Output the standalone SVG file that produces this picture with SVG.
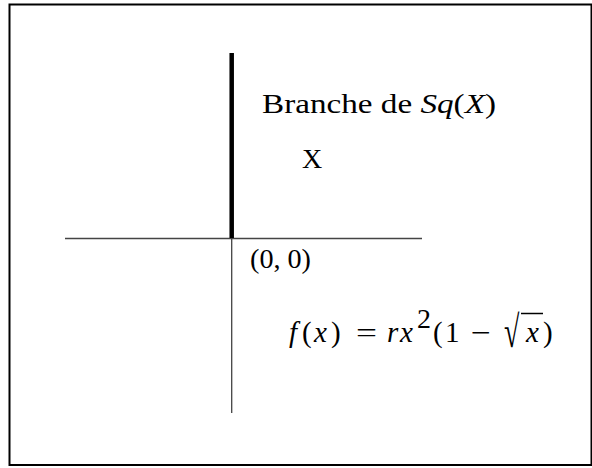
<svg xmlns="http://www.w3.org/2000/svg" width="592" height="468" viewBox="0 0 592 468">
<style>
.t{font-family:"Liberation Serif","Times New Roman",serif;font-size:28px;fill:#000}
.m{font-size:29px}
.i{font-style:italic}
.ax{stroke:#444;stroke-width:1.3;fill:none}
</style>
<rect x="0" y="0" width="592" height="468" fill="#fff"/>
<rect x="9.5" y="4.5" width="582" height="460.5" fill="none" stroke="#000" stroke-width="2"/>
<g id="connectors">
<line class="ax" x1="65" y1="238.5" x2="422" y2="238.5"/>
<line class="ax" x1="231.7" y1="238.5" x2="231.7" y2="413"/>
<line x1="231.7" y1="53" x2="231.7" y2="238" stroke="#000" stroke-width="4.5"/>
</g>
<g id="label-branche"><text class="t" x="262" y="113" textLength="234" lengthAdjust="spacingAndGlyphs">Branche de <tspan class="i">Sq</tspan>(<tspan class="i">X</tspan>)</text></g>
<g id="label-x"><text class="t" x="302" y="168">X</text></g>
<g id="label-origin"><text class="t" x="250" y="268" textLength="61" lengthAdjust="spacingAndGlyphs">(0, 0)</text></g>
<g id="label-f">
<text class="t m" y="342"><tspan class="i" x="289">f</tspan><tspan x="302">(</tspan><tspan class="i" x="314">x</tspan><tspan x="331">)</tspan></text>
<text class="t" x="356" y="342" textLength="21" lengthAdjust="spacingAndGlyphs">=</text>
<text class="t m i" y="342"><tspan x="387">r</tspan><tspan x="400">x</tspan></text>
<text class="t" x="417" y="328" font-size="19">2</text>
<text class="t m" y="342"><tspan x="433">(</tspan><tspan x="445">1</tspan></text>
<text class="t" x="471" y="342" textLength="20" lengthAdjust="spacingAndGlyphs">−</text>
<text class="t" font-size="28" transform="translate(504,347) scale(1,1.6)">√</text>
<text class="t m i" x="526" y="342">x</text>
<text class="t m" x="543" y="342">)</text>
<line x1="521" y1="313.5" x2="543" y2="313.5" stroke="#000" stroke-width="1.5"/>
</g>
</svg>
